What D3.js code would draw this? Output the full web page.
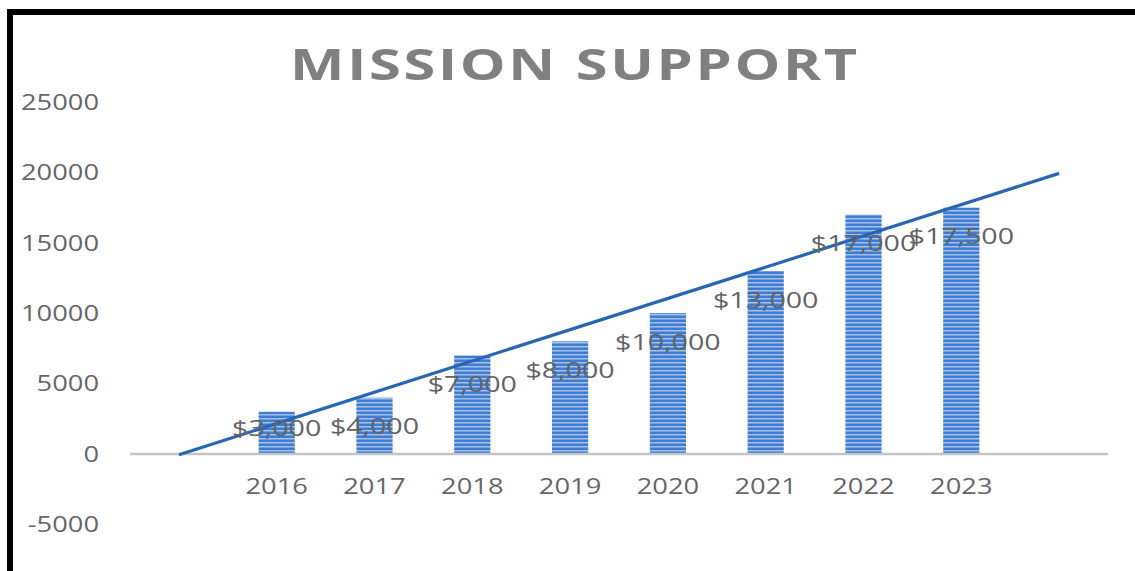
<!DOCTYPE html>
<html>
<head>
<meta charset="utf-8">
<script src="https://cdn.jsdelivr.net/npm/d3@7"></script>
<style>
  body { margin: 0; background: #fff; }
  text { font-family: "Open Sans", sans-serif; }
</style>
</head>
<body>
<svg id="chart" width="1135" height="571"></svg>
<script>
// Chart data
const years = ["2016", "2017", "2018", "2019", "2020", "2021", "2022", "2023"];
const support = [3000, 4000, 7000, 8000, 10000, 13000, 17000, 17500];
const yTicks = [-5000, 0, 5000, 10000, 15000, 20000, 25000];
// trend line runs one period before 2016 to one period after 2023
const trendSlots = ["before", "after"];
const trendValues = [-50, 19930];

const svg = d3.select("#chart");
const slots = ["before", ...years, "after"];

// The source picture is stretched sideways, so text gets widened too
function stretch(sel, k) {
    sel.each(function() {
        const w = this.getComputedTextLength();
        d3.select(this).attr("textLength", w * k).attr("lengthAdjust", "spacingAndGlyphs");
    });
}

svg.append("rect").attr("width", 1135).attr("height", 571).attr("fill", "#fff");

// Scales
const x = d3.scaleBand().domain(slots).range([130, 1108]).paddingInner(0.63).paddingOuter(0.315);
const y = d3.scaleLinear().domain([-5000, 25000]).range([524.4, 102]);

// Striped fill for the bars
const defs = svg.append("defs");
const pat = defs.append("pattern")
    .attr("id", "stripes")
    .attr("patternUnits", "userSpaceOnUse")
    .attr("width", 8).attr("height", 4);
pat.append("rect").attr("width", 8).attr("height", 4).attr("fill", "#3f7bd0");
pat.append("rect").attr("y", 2).attr("width", 8).attr("height", 1.5).attr("fill", "#a3c1ea");

// Title
const title = svg.append("text")
    .attr("x", 575)
    .attr("y", 80)
    .attr("text-anchor", "middle")
    .attr("fill", "#808080")
    .style("font-size", "43px")
    .style("font-weight", "bold")
    .style("letter-spacing", "2px")
    .text("MISSION SUPPORT");
title.attr("textLength", 570).attr("lengthAdjust", "spacingAndGlyphs");

// Y axis labels, no axis line
const yAxis = svg.append("g")
    .attr("transform", "translate(99,0)")
    .call(d3.axisLeft(y).tickValues(yTicks).tickSize(0).tickPadding(0).tickFormat(d => String(d)));
yAxis.select(".domain").remove();
yAxis.selectAll("text")
    .attr("fill", "#666")
    .style("font-size", "21px")
    .style("font-family", "'Open Sans', sans-serif")
    .attr("dy", "0.35em");
stretch(yAxis.selectAll("text"), 1.3);

// Bars
svg.append("g")
    .selectAll("rect")
    .data(years)
    .join("rect")
    .attr("x", d => x(d))
    .attr("y", (d, i) => y(support[i]))
    .attr("width", x.bandwidth())
    .attr("height", (d, i) => y(0) - y(support[i]))
    .attr("fill", "url(#stripes)");

// Zero line
svg.append("line")
    .attr("x1", 130).attr("x2", 1108)
    .attr("y1", y(0)).attr("y2", y(0))
    .attr("stroke", "#c4c4c4")
    .attr("stroke-width", 2.5);

// Category labels
const cat = svg.append("g")
    .selectAll("text")
    .data(years)
    .join("text")
    .attr("x", d => x(d) + x.bandwidth() / 2)
    .attr("y", y(0) + 40)
    .attr("text-anchor", "middle")
    .attr("fill", "#666")
    .style("font-size", "21px")
    .text(d => d);
stretch(cat, 1.3);

// Trend line
svg.append("path")
    .datum(trendSlots.map((s, i) => [x(s) + x.bandwidth() / 2, y(trendValues[i])]))
    .attr("d", d3.line())
    .attr("fill", "none")
    .attr("stroke", "#2866b5")
    .attr("stroke-width", 3.2);

// Data labels
const fmt = d3.format("$,");
const labels = svg.append("g")
    .selectAll("text")
    .data(years)
    .join("text")
    .attr("x", d => x(d) + x.bandwidth() / 2)
    .attr("y", (d, i) => Math.min(y(support[i]) + 29, y(0) - 26))
    .attr("dy", "0.35em")
    .attr("text-anchor", "middle")
    .attr("fill", "#636363")
    .style("font-size", "22px")
    .text((d, i) => fmt(support[i]));
stretch(labels, 1.3);

// Frame (only top and left edges show)
svg.append("path")
    .attr("d", "M10,571V12H1135")
    .attr("fill", "none")
    .attr("stroke", "#000")
    .attr("stroke-width", 6);
</script>
</body>
</html>
